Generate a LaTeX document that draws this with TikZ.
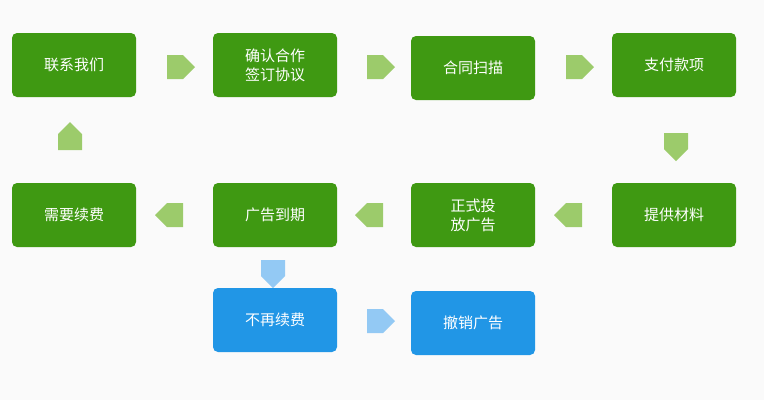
\documentclass[tikz,border=0pt]{standalone}
\usepackage{fontspec}
\newfontfamily\cjk{Noto Sans CJK SC}
\usetikzlibrary{shapes.arrows}
\definecolor{gbox}{HTML}{3F9912}
\definecolor{garr}{HTML}{9CCB6B}
\definecolor{bbox}{HTML}{2196E6}
\definecolor{barr}{HTML}{93C9F4}
\definecolor{bg}{HTML}{FAFAFA}
\tikzset{
 box/.style={rounded corners=5pt, minimum width=124pt, minimum height=64pt, text=white, font=\cjk\fontsize{15}{19}\selectfont, align=center, inner sep=0pt},
 gb/.style={box, fill=gbox},
 bb/.style={box, fill=bbox},
 blk/.style={single arrow, minimum height=28pt, minimum width=24pt, single arrow head extend=0pt, inner sep=0pt, single arrow tip angle=90, shape border uses incircle},
 ga/.style={blk, fill=garr},
 ba/.style={blk, fill=barr},
}
\begin{document}
\begin{tikzpicture}[x=1pt,y=-1pt]
\fill[bg] (0,0) rectangle (764,400);
\node[gb] (a) at (74,65) {联系我们};
\node[gb] (b) at (275,65) {确认合作\\签订协议};
\node[gb] (c) at (473,68) {合同扫描};
\node[gb] (d) at (674,65) {支付款项};
\node[gb] (e) at (674,215) {提供材料};
\node[gb] (f) at (473,215) {正式投\\放广告};
\node[gb] (g) at (275,215) {广告到期};
\node[gb] (h) at (74,215) {需要续费};
\node[bb] (i) at (275,320) {不再续费};
\node[bb] (j) at (473,323) {撤销广告};
\node[ga, shape border rotate=0] (ab) at (175,67) {};
\node[ga, shape border rotate=0] (bc) at (375,67) {};
\node[ga, shape border rotate=0] (cd) at (574,67) {};
\node[ga, shape border rotate=270] (de) at (676,141) {};
\node[ga, shape border rotate=180] (ef) at (574,215) {};
\node[ga, shape border rotate=180] (fg) at (375,215) {};
\node[ga, shape border rotate=180] (gh) at (175,215) {};
\node[ga, shape border rotate=90] (ha) at (70,142) {};
\node[ba, shape border rotate=270] (gi) at (273,268) {};
\node[ba, shape border rotate=0] (ij) at (375,321) {};
\end{tikzpicture}
\end{document}
